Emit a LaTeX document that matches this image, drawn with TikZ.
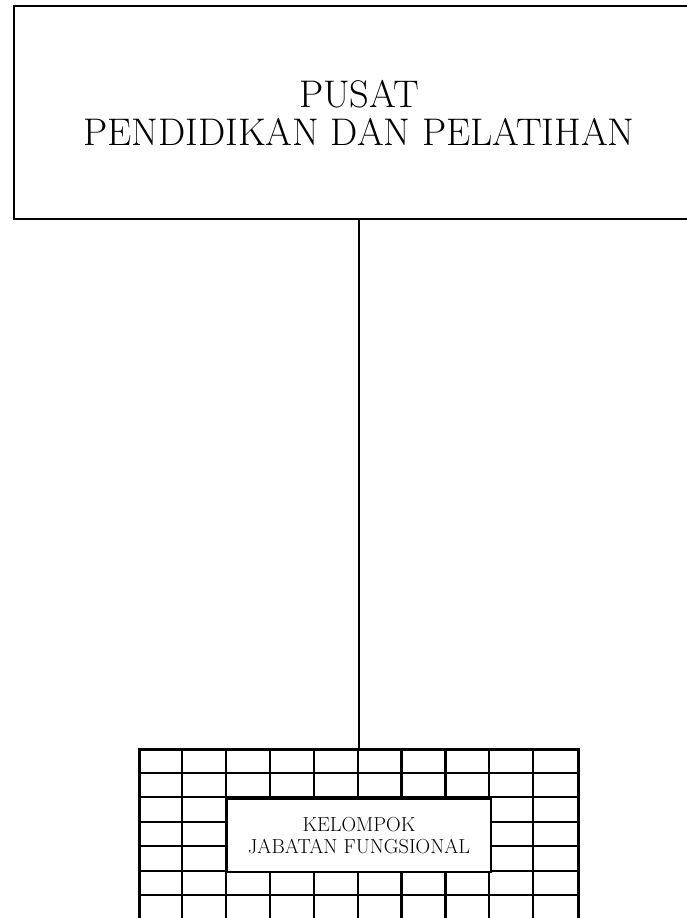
\documentclass[tikz,border=0pt]{standalone}
\usetikzlibrary{positioning}

\begin{document}
\begin{tikzpicture}[
  x=1pt, y=1pt,
  unit/.style={rectangle, draw, line width=2.4pt, minimum width=690pt, minimum height=213pt, align=center, font=\fontsize{38.5}{38}\selectfont},
  gridbox/.style={rectangle, draw, line width=2.8pt, minimum width=439pt, minimum height=171.5pt},
  cell/.style={line width=2.2pt},
  fungsi/.style={rectangle, draw, fill=white, line width=2.2pt, minimum width=263.4pt, minimum height=73.5pt, align=center, font=\fontsize{20.3}{22}\selectfont},
  link/.style={line width=2pt}
]
\useasboundingbox (0,0) rectangle (687,918);

\node[unit] (pusat) at (359,805.5) {PUSAT\\PENDIDIKAN DAN PELATIHAN};
\node[gridbox, below=528pt of pusat] (jabatan) {};

\foreach \i in {1,...,9}
  \draw[cell] ([xshift=\i*43.9pt]jabatan.north west) -- ([xshift=\i*43.9pt]jabatan.south west);
\foreach \j in {1,...,6}
  \draw[cell] ([yshift=-\j*24.5pt]jabatan.north west) -- ([yshift=-\j*24.5pt]jabatan.north east);

\node[fungsi] (kelompok) at (jabatan) {KELOMPOK\\JABATAN FUNGSIONAL};

\draw[link] (pusat) -- (jabatan);
\end{tikzpicture}
\end{document}
